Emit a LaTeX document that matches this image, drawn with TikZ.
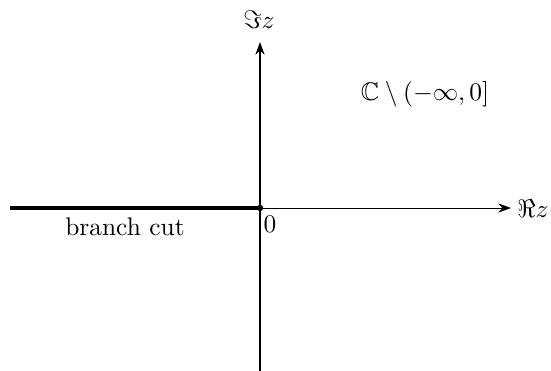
\documentclass[tikz,border=0pt]{standalone}
\usepackage{amsmath,amssymb}
\usetikzlibrary{arrows.meta}
\begin{document}
\begin{tikzpicture}[x=0.3937pt,y=-0.3937pt,
  axis/.style={line width=0.4pt,-{Stealth[length=5pt,width=3.6pt]}},
  cut/.style={line width=1.6pt}]
\useasboundingbox (0,0) rectangle (551,370);
\coordinate (O) at (260,208);
\coordinate (xs) at (10,208);
\coordinate (xe) at (511,208);
\coordinate (ys) at (260,371);
\coordinate (ye) at (260,42);
\draw[axis] (xs) -- (xe);
\draw[axis] (ys) -- (ye);
\draw[cut] (xs) -- (O);
\fill (O) circle (3.2);
\node (re) at (533,209) {$\Re z$};
\node (im) at (259,20) {$\Im z$};
\node (zero) at (270,224) {$0$};
\node (bc) at (125,227) {branch cut};
\node (dom) at (425,94) {$\mathbb{C}\setminus(-\infty,0]$};
\end{tikzpicture}
\end{document}
